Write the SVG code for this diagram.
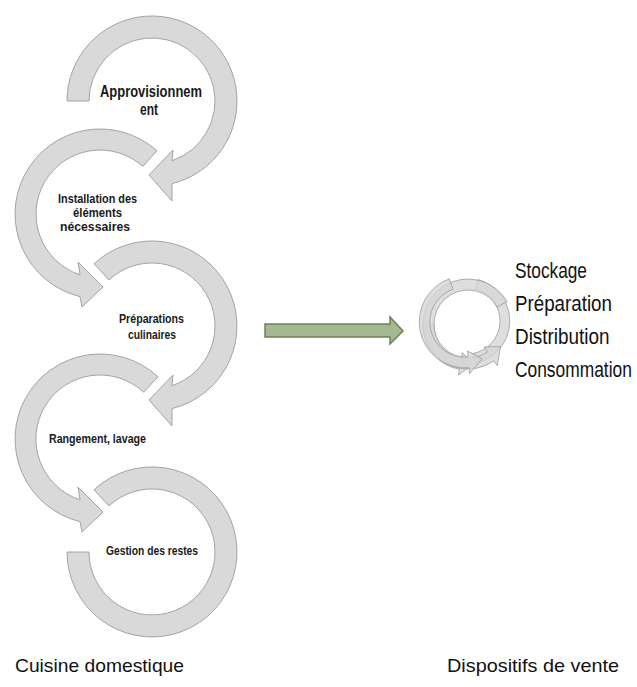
<svg xmlns="http://www.w3.org/2000/svg" width="637" height="687" viewBox="0 0 637 687">
<style>
.arr{fill:#d9d9d9;stroke:#a3a3a3;stroke-width:1}
.ico{fill:#d6d6d6;fill-opacity:0.8;stroke:#9c9c9c;stroke-width:0.8}
.lbl{font-family:"Liberation Sans Narrow","Liberation Sans",Arial,sans-serif;fill:#1a1a1a;font-weight:bold}
.big{font-family:"Liberation Sans",Arial,sans-serif;fill:#111;font-size:22px}
.cap{font-family:"Liberation Sans",Arial,sans-serif;fill:#111;font-size:19px}
.grn{fill:#a6b88f;stroke:#6f8059;stroke-width:1.5}
</style>
<rect width="637" height="687" fill="#ffffff"/>
<g id="step1">
<path class="arr" d="M67,101 A85 85 0 1 1 172,183.6 L172,201 L149,175 L173,150 L172,160.7 A63 63 0 1 0 89,101 Z"/>
<text class="lbl" font-size="17" x="100" y="97" textLength="102" lengthAdjust="spacingAndGlyphs">Approvisionnem</text>
<text class="lbl" font-size="17" x="140" y="115" textLength="18" lengthAdjust="spacingAndGlyphs">ent</text>
</g>
<g id="step2">
<path class="arr" d="M156.9,150.8 A85 85 0 1 0 80,296.6 L82,307 L103,287 L78,262 L80,274.8 A64 64 0 1 1 142.8,166.4 Z"/>
<text class="lbl" font-size="13" x="58" y="203" textLength="79" lengthAdjust="spacingAndGlyphs">Installation des</text>
<text class="lbl" font-size="13" x="73" y="217" textLength="49" lengthAdjust="spacingAndGlyphs">éléments</text>
<text class="lbl" font-size="13" x="60" y="231" textLength="70" lengthAdjust="spacingAndGlyphs">nécessaires</text>
</g>
<g id="step3">
<path class="arr" d="M94,263.8 A85 85 0 1 1 172,408.6 L172,426 L149,400 L173,375 L172,385.7 A63 63 0 1 0 109,279.9 Z"/>
<text class="lbl" font-size="13" x="119" y="323" textLength="65" lengthAdjust="spacingAndGlyphs">Préparations</text>
<text class="lbl" font-size="13" x="128" y="339" textLength="48" lengthAdjust="spacingAndGlyphs">culinaires</text>
</g>
<g id="step4">
<path class="arr" d="M158,376.8 A85 85 0 1 0 80,521.6 L82,532 L103,512 L78,487 L80,499.8 A64 64 0 1 1 143.6,392.2 Z"/>
<text class="lbl" font-size="13" x="49" y="443" textLength="97" lengthAdjust="spacingAndGlyphs">Rangement, lavage</text>
</g>
<g id="step5">
<path class="arr" d="M94,489.8 A85 85 0 1 1 67,552 L89,552 A63 63 0 1 0 109,505.9 Z"/>
<text class="lbl" font-size="13" x="106" y="555" textLength="92" lengthAdjust="spacingAndGlyphs">Gestion des restes</text>
</g>
<g id="connectors">
<path class="grn" d="M265,324 L390,324 L390,317 L403,331 L390,344 L390,337 L265,337 Z"/>
</g>
<g id="vente">
<path class="ico" d="M474.5,363.3 A43 43 0 0 0 478.1,279.5 L475.5,289.1 A33 33 0 0 1 472.7,353.5 Z"/>
<path class="ico" d="M423.1,323.7 A44 44 0 0 0 459.4,369.3 L458.3,375.2 L473.7,363.9 L462.3,352.6 L461.3,358.5 A33 33 0 0 1 434,324.3 Z"/>
<path class="ico" d="M507,301.5 A45 45 0 1 0 493.8,360.9 L497.3,365.8 L500.4,346.7 L484.1,346.9 L487.5,351.9 A34 34 0 1 1 497.4,307 Z"/>
<path class="ico" d="M449.3,278.8 A46 46 0 0 0 469,367.8 L469.5,373.8 L482.1,358.7 L467.5,350.9 L468.1,356.9 A35 35 0 0 1 453,289.1 Z"/>
<text class="big" transform="translate(515,278) scale(0.785,1)">Stockage</text>
<text class="big" transform="translate(515,311) scale(0.853,1)">Préparation</text>
<text class="big" transform="translate(515,344) scale(0.86,1)">Distribution</text>
<text class="big" transform="translate(515,377) scale(0.79,1)">Consommation</text>
</g>
<g id="captions">
<text class="cap" x="15" y="672" textLength="169" lengthAdjust="spacingAndGlyphs">Cuisine domestique</text>
<text class="cap" x="447" y="672" textLength="172" lengthAdjust="spacingAndGlyphs">Dispositifs de vente</text>
</g>
</svg>
